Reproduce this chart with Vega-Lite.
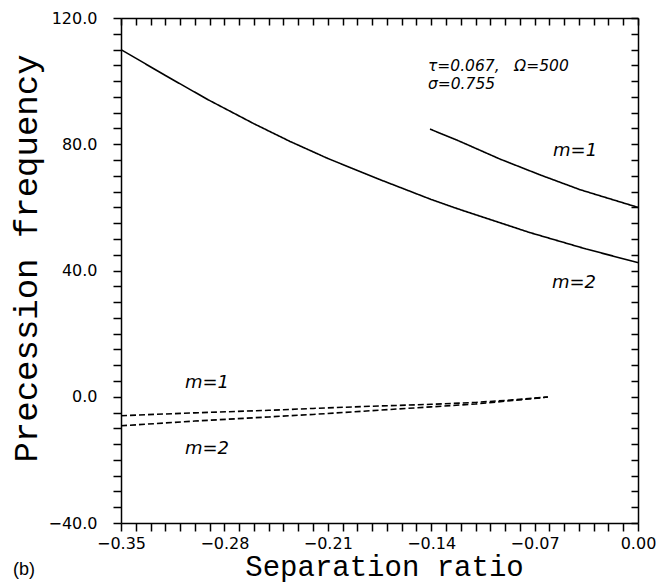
{
  "$schema": "https://vega.github.io/schema/vega-lite/v6.json",
  "width": 517,
  "height": 505,
  "autosize": "none",
  "padding": {"left": 121, "top": 18, "right": 32, "bottom": 61},
  "background": "white",
  "view": {"stroke": null},
  "config": {
    "axis": {
      "domainColor": "black",
      "domainWidth": 1.5,
      "ticks": true,
      "tickColor": "black",
      "tickWidth": 1.5,
      "grid": false,
      "labelColor": "black",
      "labelFont": "DejaVu Sans",
      "labelFontSize": 16,
      "titleColor": "black",
      "titleFont": "Liberation Mono",
      "titleFontWeight": "normal"
    }
  },
  "datasets": {
    "curves": [
      {"series": "solid m=2", "style": "solid", "x": -0.35, "y": 110.0},
      {"series": "solid m=2", "style": "solid", "x": -0.32, "y": 101.8},
      {"series": "solid m=2", "style": "solid", "x": -0.291, "y": 94.1},
      {"series": "solid m=2", "style": "solid", "x": -0.26, "y": 86.5},
      {"series": "solid m=2", "style": "solid", "x": -0.2356, "y": 80.9},
      {"series": "solid m=2", "style": "solid", "x": -0.21, "y": 75.5},
      {"series": "solid m=2", "style": "solid", "x": -0.1747, "y": 68.8},
      {"series": "solid m=2", "style": "solid", "x": -0.14, "y": 62.5},
      {"series": "solid m=2", "style": "solid", "x": -0.1205, "y": 59.3},
      {"series": "solid m=2", "style": "solid", "x": -0.0731, "y": 52.0},
      {"series": "solid m=2", "style": "solid", "x": -0.035, "y": 46.8},
      {"series": "solid m=2", "style": "solid", "x": 0.0, "y": 42.5},
      {"series": "solid m=1", "style": "solid", "x": -0.1408, "y": 84.8},
      {"series": "solid m=1", "style": "solid", "x": -0.1205, "y": 80.9},
      {"series": "solid m=1", "style": "solid", "x": -0.0934, "y": 75.3},
      {"series": "solid m=1", "style": "solid", "x": -0.0663, "y": 70.3},
      {"series": "solid m=1", "style": "solid", "x": -0.0392, "y": 65.6},
      {"series": "solid m=1", "style": "solid", "x": 0.0, "y": 60.0},
      {"series": "dashed m=1", "style": "dashed", "x": -0.35, "y": -6.0},
      {"series": "dashed m=1", "style": "dashed", "x": -0.30, "y": -5.1},
      {"series": "dashed m=1", "style": "dashed", "x": -0.25, "y": -4.3},
      {"series": "dashed m=1", "style": "dashed", "x": -0.22, "y": -3.7},
      {"series": "dashed m=1", "style": "dashed", "x": -0.18, "y": -3.0},
      {"series": "dashed m=1", "style": "dashed", "x": -0.14, "y": -2.4},
      {"series": "dashed m=1", "style": "dashed", "x": -0.11, "y": -1.8},
      {"series": "dashed m=1", "style": "dashed", "x": -0.085, "y": -1.0},
      {"series": "dashed m=1", "style": "dashed", "x": -0.061, "y": -0.1},
      {"series": "dashed m=2", "style": "dashed", "x": -0.35, "y": -9.2},
      {"series": "dashed m=2", "style": "dashed", "x": -0.30, "y": -7.7},
      {"series": "dashed m=2", "style": "dashed", "x": -0.25, "y": -6.4},
      {"series": "dashed m=2", "style": "dashed", "x": -0.22, "y": -5.6},
      {"series": "dashed m=2", "style": "dashed", "x": -0.18, "y": -4.4},
      {"series": "dashed m=2", "style": "dashed", "x": -0.14, "y": -3.2},
      {"series": "dashed m=2", "style": "dashed", "x": -0.11, "y": -2.3},
      {"series": "dashed m=2", "style": "dashed", "x": -0.085, "y": -1.2},
      {"series": "dashed m=2", "style": "dashed", "x": -0.061, "y": -0.1}
    ],
    "labels": [
      {"text": "m=1", "x": -0.0426, "y": 77.9},
      {"text": "m=2", "x": -0.0433, "y": 36.0},
      {"text": "m=1", "x": -0.2918, "y": 4.4},
      {"text": "m=2", "x": -0.2918, "y": -16.6}
    ],
    "params": [
      {"text": "τ=0.067,\u00a0\u00a0\u00a0Ω=500", "x": -0.1422, "y": 104.8},
      {"text": "σ=0.755", "x": -0.1422, "y": 99.1}
    ],
    "panel": [
      {"text": "(b)", "x": -0.4157, "y": -54.9}
    ]
  },
  "resolve": {"axis": {"x": "independent", "y": "independent"}},
  "layer": [
    {
      "data": {"name": "curves"},
      "mark": {"type": "line", "color": "black", "strokeWidth": 1.6, "clip": true},
      "encoding": {
        "x": {
          "field": "x", "type": "quantitative",
          "scale": {"domain": [-0.35, 0], "nice": false, "zero": false},
          "axis": {
            "orient": "bottom",
            "title": "Separation ratio",
            "titleFontSize": 29,
            "titleX": 263,
            "titleY": 52,
            "titleAnchor": null,
            "titleAlign": "center",
            "titleBaseline": "alphabetic",
            "values": [-0.35,-0.34,-0.33,-0.32,-0.31,-0.30,-0.29,-0.28,-0.27,-0.26,-0.25,-0.24,-0.23,-0.22,-0.21,-0.20,-0.19,-0.18,-0.17,-0.16,-0.15,-0.14,-0.13,-0.12,-0.11,-0.10,-0.09,-0.08,-0.07,-0.06,-0.05,-0.04,-0.03,-0.02,-0.01,0],
            "labelExpr": "round(datum.value*100) % 7 == 0 ? format(datum.value, '.2f') : ''",
            "tickSize": 8,
            "labelPadding": 4,
            "labelOverlap": false,
            "labelFlush": false
          }
        },
        "y": {
          "field": "y", "type": "quantitative",
          "scale": {"domain": [-40, 120], "nice": false, "zero": false},
          "axis": {
            "orient": "left",
            "title": "Precession frequency",
            "titleFontSize": 34,
            "titleAngle": -90,
            "titleX": -85,
            "titleY": 240,
            "titleAnchor": null,
            "titleAlign": "center",
            "titleBaseline": "alphabetic",
            "values": [-40,-35,-30,-25,-20,-15,-10,-5,0,5,10,15,20,25,30,35,40,45,50,55,60,65,70,75,80,85,90,95,100,105,110,115,120],
            "labelExpr": "datum.value % 40 == 0 ? format(datum.value, '.1f') : ''",
            "tickSize": 8,
            "labelPadding": 16,
            "labelOverlap": false,
            "labelFlush": false
          }
        },
        "detail": {"field": "series"},
        "strokeDash": {
          "field": "style", "type": "nominal",
          "scale": {"domain": ["solid", "dashed"], "range": [[1, 0], [6, 3]]},
          "legend": null
        }
      }
    },
    {
      "data": {"name": "labels"},
      "mark": {"type": "text", "font": "DejaVu Sans", "fontStyle": "italic", "fontSize": 18, "color": "black", "align": "center", "baseline": "middle"},
      "encoding": {
        "x": {
          "field": "x", "type": "quantitative",
          "axis": {
            "orient": "top",
            "title": null,
            "labels": false,
            "values": [-0.35,-0.34,-0.33,-0.32,-0.31,-0.30,-0.29,-0.28,-0.27,-0.26,-0.25,-0.24,-0.23,-0.22,-0.21,-0.20,-0.19,-0.18,-0.17,-0.16,-0.15,-0.14,-0.13,-0.12,-0.11,-0.10,-0.09,-0.08,-0.07,-0.06,-0.05,-0.04,-0.03,-0.02,-0.01,0],
            "tickSize": -7
          }
        },
        "y": {
          "field": "y", "type": "quantitative",
          "axis": {
            "orient": "right",
            "title": null,
            "labels": false,
            "values": [-40,-35,-30,-25,-20,-15,-10,-5,0,5,10,15,20,25,30,35,40,45,50,55,60,65,70,75,80,85,90,95,100,105,110,115,120],
            "tickSize": -7
          }
        },
        "text": {"field": "text"}
      }
    },
    {
      "data": {"name": "params"},
      "mark": {"type": "text", "font": "DejaVu Sans", "fontStyle": "italic", "fontSize": 15.5, "color": "black", "align": "left", "baseline": "middle"},
      "encoding": {
        "x": {"field": "x", "type": "quantitative", "axis": null},
        "y": {"field": "y", "type": "quantitative", "axis": null},
        "text": {"field": "text"}
      }
    },
    {
      "data": {"name": "panel"},
      "mark": {"type": "text", "font": "Liberation Sans", "fontSize": 18, "color": "black", "align": "center", "baseline": "middle"},
      "encoding": {
        "x": {"field": "x", "type": "quantitative", "axis": null},
        "y": {"field": "y", "type": "quantitative", "axis": null},
        "text": {"field": "text"}
      }
    }
  ]
}
